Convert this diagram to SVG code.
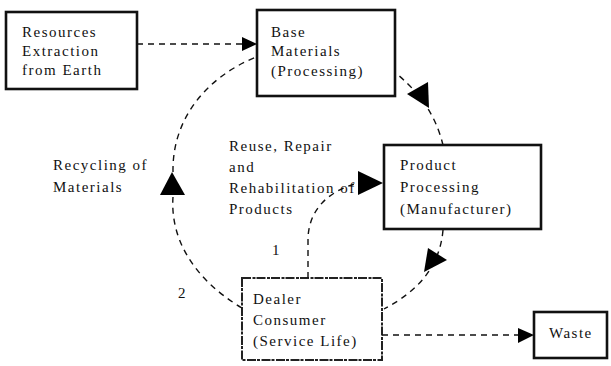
<svg xmlns="http://www.w3.org/2000/svg" width="611" height="366" viewBox="0 0 611 366">
<style>
.box{fill:#fff;stroke:#111;stroke-width:2.6}
.box2{fill:#fff;stroke:#222;stroke-width:2;stroke-dasharray:9 1.5 3 1}
text{font-family:"Liberation Serif","Times New Roman",serif;font-size:15px;letter-spacing:1.5px;fill:#111}
.c{fill:none;stroke:#111;stroke-width:1.4;stroke-dasharray:6 5}
.ah{fill:#000}
</style>
<rect width="611" height="366" fill="#fff"/>
<g id="resources">
<rect class="box" x="6" y="12" width="131" height="77"/>
<text x="22" y="37">Resources</text>
<text x="22" y="56">Extraction</text>
<text x="22" y="75">from Earth</text>
</g>
<g id="base">
<rect class="box" x="257" y="10" width="138" height="86"/>
<text x="271" y="37">Base</text>
<text x="271" y="56">Materials</text>
<text x="271" y="76">(Processing)</text>
</g>
<g id="product">
<rect class="box" x="384" y="145" width="157" height="84"/>
<text x="400" y="170">Product</text>
<text x="400" y="192">Processing</text>
<text x="400" y="214">(Manufacturer)</text>
</g>
<g id="dealer">
<rect class="box2" x="242" y="278" width="140" height="82"/>
<text x="253" y="304">Dealer</text>
<text x="253" y="325">Consumer</text>
<text x="253" y="346">(Service Life)</text>
</g>
<g id="waste">
<rect class="box" x="534" y="312" width="73" height="46"/>
<text x="549" y="338">Waste</text>
</g>
<g id="labels">
<text x="53" y="170">Recycling of</text>
<text x="53" y="192">Materials</text>
<text x="229" y="151">Reuse, Repair</text>
<text x="229" y="172">and</text>
<text x="229" y="193">Rehabilitation of</text>
<text x="229" y="214">Products</text>
<text x="272" y="255">1</text>
<text x="178" y="298">2</text>
</g>
<g id="connectors">
<path class="c" d="M137,44 L243,44"/>
<polygon class="ah" points="257,44 242,37 242,51"/>
<path class="c" d="M382,335 L519,335"/>
<polygon class="ah" points="534,335 518,328 518,343"/>
<path class="c" d="M443,145 C438,125 428,100 397,74"/>
<polygon class="ah" points="407,94 428,82 429,108"/>
<path class="c" d="M443,230 C440,265 420,290 384,309"/>
<polygon class="ah" points="428,248 447,260 424,272"/>
<path class="c" d="M308,278 L308,238 C309,212 325,192 358,183"/>
<polygon class="ah" points="383,183 358,171 358,195"/>
<path class="c" d="M242,308 C195,280 170,240 173,197"/>
<path class="c" d="M173,172 C172,120 205,78 256,57"/>
<polygon class="ah" points="172,172 160,195 185,195"/>
</g>
</svg>
